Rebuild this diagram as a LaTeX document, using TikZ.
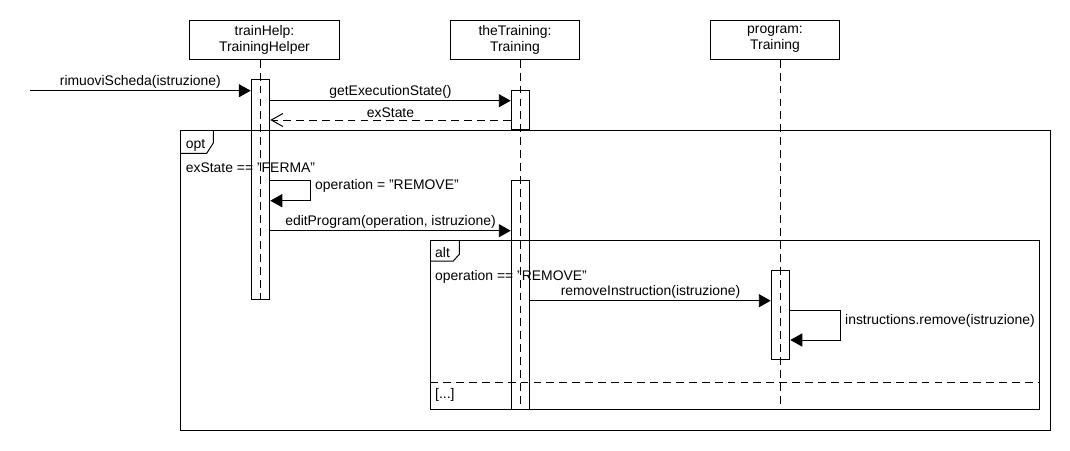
\documentclass[tikz,border=0pt]{standalone}
\usepackage{fontspec}
\setmainfont{Liberation Sans}
\usetikzlibrary{calc,arrows.meta}

\begin{document}
\begin{tikzpicture}[x=0.025cm, y=-0.025cm, line width=0.7pt,
    font=\fontsize{9.9}{11.3}\selectfont,
    obj/.style={draw, align=center, minimum height=0.98cm, inner sep=0pt},
    bar/.style={draw, minimum width=0.465cm, inner sep=0pt},
    life/.style={dash pattern=on 5.6pt off 3.6pt},
    call/.style={-{Triangle[length=8.5pt,width=9.3pt]}},
    reply/.style={dash pattern=on 5.6pt off 3.6pt, -{Straight Barb[length=8.3pt,width=9.3pt]}},
    lbl/.style={above, inner sep=1.5pt}]
    \useasboundingbox (0,0) rectangle (1070,450);

    % objects
    \node[obj, minimum width=3.725cm] (trainHelp) at (264.5,39.6) {trainHelp:\\TrainingHelper};
    \node[obj, minimum width=3.215cm] (theTraining) at (515,39.6) {theTraining:\\Training};
    \node[obj, minimum width=3.215cm] (program) at (775,39.6) {program:\\Training};

    % activations
    \node[bar, minimum height=5.475cm] (helpAct) at (260.5,189.5) {};
    \node[bar, minimum height=0.965cm] (trainAct) at (520.5,110) {};
    \node[bar, minimum height=5.71cm] (trainAct2) at (520.5,294.9) {};
    \node[bar, minimum height=2.215cm] (progAct) at (780.5,315) {};

    % lifelines
    \draw[life] (trainHelp.south -| helpAct) -- (helpAct.south);
    \draw[life] (theTraining.south -| trainAct) -- (trainAct2.south);
    \draw[life] (program.south -| progAct) -- (progAct |- trainAct2.south);

    % messages
    \coordinate (caller) at (30,90.7);
    \draw[call] (caller) -- (caller -| helpAct.west)
        node[lbl, midway] (rimuovi) {rimuoviScheda(istruzione)};
    \draw[call] (helpAct.east |- 0,100.7) -- (trainAct.west |- 0,100.7)
        node[lbl, midway] (getState) {getExecutionState()};
    \draw[reply] (trainAct.west |- 0,120) -- (helpAct.east |- 0,120)
        node[lbl, midway] (exState) {exState};
    \draw[call] (helpAct.east |- 0,180.7) -- (310,180.7) -- (310,200.7) -- (helpAct.east |- 0,200.7); % self
    \node[anchor=west] (opSet) at (310,186) {operation = "REMOVE"};
    \draw[call] (helpAct.east |- 0,230.7) -- (trainAct2.west |- 0,230.7)
        node[lbl, midway] (edit) {editProgram(operation, istruzione)};
    \draw[call] (trainAct2.east |- 0,300.7) -- (progAct.west |- 0,300.7)
        node[lbl, midway] (removeInstr) {removeInstruction(istruzione)};
    \draw[call] (progAct.east |- 0,310.7) -- (840,310.7) -- (840,340) -- (progAct.east |- 0,340); % self
    \node[anchor=west] (instrRemove) at (840,321) {instructions.remove(istruzione)};

    % opt fragment
    \draw (180.7,130) rectangle (1050,430);
    \draw (180.7,153.3) -- (206.7,153.3) -- (213.3,143) -- (213.3,130);
    \node[anchor=west] (optTag) at (180.7,145) {opt};
    \node[anchor=west] (optGuard) at (180.7,168) {exState == "FERMA"};

    % alt fragment
    \draw (430,240.7) rectangle (1039.3,409.3);
    \draw (430,261) -- (453.3,261) -- (459.3,254.3) -- (459.3,240.7);
    \draw[life] (430,382.3) -- (1039.3,382.3); % else
    \node[anchor=west] (altTag) at (430,253) {alt};
    \node[anchor=west] (altGuard) at (430,276.7) {operation == "REMOVE"};
    \node[anchor=west] (altElse) at (430,395) {[...]};
  \end{tikzpicture}
\end{document}
